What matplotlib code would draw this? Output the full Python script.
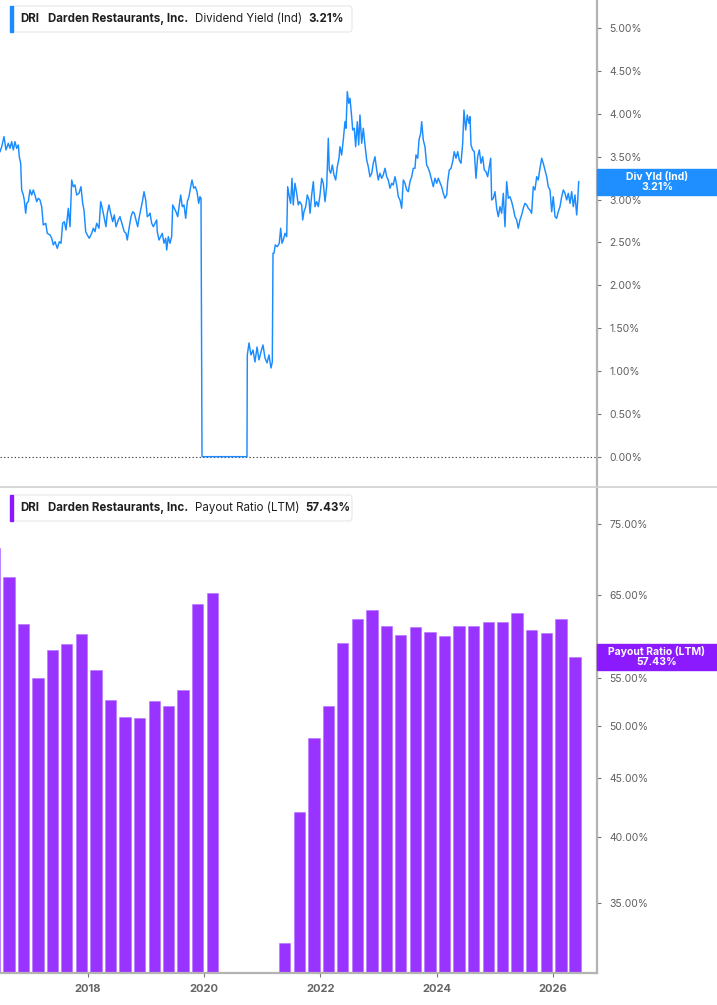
"""DRI dividend yield and payout ratio, two stacked panels."""
import matplotlib
matplotlib.use("Agg")
import matplotlib.pyplot as plt
import pandas as pd
from matplotlib.lines import Line2D
from matplotlib.patches import FancyBboxPatch, Rectangle

plt.rcParams["font.family"] = ["Inter", "DejaVu Sans"]

# Dividend yield (Ind): date as decimal year, value in %
yld_year = [
    2016.485, 2016.514, 2016.554, 2016.588, 2016.628, 2016.657, 2016.686, 2016.714, 2016.743, 2016.772,
    2016.800, 2016.817, 2016.841, 2016.858, 2016.886, 2016.903, 2016.927, 2016.945, 2016.972, 2017.001,
    2017.031, 2017.058, 2017.087, 2017.117, 2017.144, 2017.173, 2017.203, 2017.230, 2017.272, 2017.299,
    2017.346, 2017.375, 2017.402, 2017.432, 2017.471, 2017.506, 2017.535, 2017.564, 2017.592, 2017.621,
    2017.661, 2017.690, 2017.719, 2017.747, 2017.776, 2017.805, 2017.845, 2017.879, 2017.908, 2017.931,
    2017.960, 2017.988, 2018.022, 2018.063, 2018.091, 2018.120, 2018.149, 2018.189, 2018.218, 2018.246,
    2018.275, 2018.309, 2018.332, 2018.361, 2018.390, 2018.425, 2018.452, 2018.482, 2018.521, 2018.550,
    2018.590, 2018.624, 2018.654, 2018.676, 2018.711, 2018.740, 2018.769, 2018.797, 2018.826, 2018.855,
    2018.883, 2018.912, 2018.941, 2018.964, 2018.993, 2019.020, 2019.050, 2019.067, 2019.096, 2019.124,
    2019.153, 2019.182, 2019.192, 2019.222, 2019.251, 2019.278, 2019.308, 2019.337, 2019.354, 2019.382,
    2019.411, 2019.440, 2019.458, 2019.485, 2019.514, 2019.544, 2019.571, 2019.595, 2019.623, 2019.652,
    2019.681, 2019.709, 2019.738, 2019.767, 2019.790, 2019.819, 2019.847, 2019.876, 2019.905, 2019.927,
    2019.945, 2019.962, 2020.736, 2020.742, 2020.771, 2020.805, 2020.840, 2020.874, 2020.909, 2020.943,
    2020.977, 2021.012, 2021.046, 2021.081, 2021.115, 2021.149, 2021.172, 2021.184, 2021.201, 2021.223,
    2021.258, 2021.292, 2021.316, 2021.339, 2021.361, 2021.391, 2021.420, 2021.437, 2021.465, 2021.488,
    2021.511, 2021.533, 2021.562, 2021.592, 2021.619, 2021.643, 2021.678, 2021.695, 2021.717, 2021.747,
    2021.774, 2021.804, 2021.821, 2021.850, 2021.878, 2021.907, 2021.936, 2021.964, 2021.993, 2022.022,
    2022.050, 2022.079, 2022.108, 2022.136, 2022.153, 2022.177, 2022.205, 2022.234, 2022.263, 2022.291,
    2022.320, 2022.337, 2022.366, 2022.394, 2022.423, 2022.441, 2022.463, 2022.487, 2022.509, 2022.538,
    2022.556, 2022.583, 2022.607, 2022.635, 2022.659, 2022.681, 2022.711, 2022.738, 2022.767, 2022.797,
    2022.824, 2022.853, 2022.883, 2022.910, 2022.939, 2022.969, 2022.996, 2023.025, 2023.055, 2023.082,
    2023.112, 2023.141, 2023.168, 2023.198, 2023.227, 2023.254, 2023.284, 2023.313, 2023.341, 2023.370,
    2023.399, 2023.427, 2023.456, 2023.485, 2023.513, 2023.542, 2023.571, 2023.599, 2023.628, 2023.645,
    2023.675, 2023.697, 2023.726, 2023.743, 2023.771, 2023.800, 2023.829, 2023.857, 2023.886, 2023.915,
    2023.943, 2023.972, 2024.001, 2024.029, 2024.058, 2024.087, 2024.115, 2024.144, 2024.174, 2024.191,
    2024.218, 2024.248, 2024.277, 2024.304, 2024.334, 2024.363, 2024.390, 2024.420, 2024.449, 2024.471,
    2024.501, 2024.528, 2024.557, 2024.575, 2024.592, 2024.621, 2024.649, 2024.678, 2024.707, 2024.735,
    2024.764, 2024.793, 2024.821, 2024.850, 2024.879, 2024.907, 2024.931, 2024.948, 2024.976, 2025.005,
    2025.034, 2025.062, 2025.091, 2025.120, 2025.148, 2025.177, 2025.206, 2025.234, 2025.263, 2025.292,
    2025.320, 2025.349, 2025.378, 2025.406, 2025.435, 2025.464, 2025.492, 2025.521, 2025.550, 2025.578,
    2025.607, 2025.636, 2025.664, 2025.693, 2025.723, 2025.750, 2025.779, 2025.809, 2025.836, 2025.865,
    2025.895, 2025.922, 2025.952, 2025.981, 2026.008, 2026.038, 2026.067, 2026.094, 2026.124, 2026.153,
    2026.181, 2026.210, 2026.239, 2026.267, 2026.296, 2026.325, 2026.353, 2026.382, 2026.411, 2026.428,
    2026.446,
]
yld_pct = [
    3.560, 3.618, 3.735, 3.580, 3.658, 3.599, 3.676, 3.580, 3.676, 3.599,
    3.638, 3.501, 3.424, 3.113, 3.054, 2.996, 2.841, 2.957, 2.976, 3.113,
    3.054, 3.113, 3.054, 2.976, 3.016, 2.996, 2.918, 2.704, 2.724, 2.607,
    2.587, 2.549, 2.471, 2.509, 2.432, 2.509, 2.491, 2.724, 2.743, 2.646,
    2.899, 2.684, 3.229, 3.151, 3.171, 3.054, 3.074, 3.151, 2.957, 2.879,
    2.626, 2.587, 2.549, 2.607, 2.666, 2.626, 2.724, 2.666, 2.976, 2.899,
    2.801, 2.684, 2.841, 2.938, 2.841, 2.743, 2.821, 2.684, 2.763, 2.801,
    2.704, 2.626, 2.607, 2.529, 2.684, 2.801, 2.859, 2.841, 2.763, 2.684,
    2.801, 2.899, 2.996, 3.093, 2.996, 2.801, 2.821, 2.841, 2.724, 2.684,
    2.724, 2.763, 2.626, 2.529, 2.568, 2.607, 2.491, 2.549, 2.412, 2.568,
    2.491, 2.568, 2.938, 2.899, 2.859, 2.801, 2.938, 3.054, 2.918, 2.938,
    2.782, 2.976, 3.034, 3.151, 3.229, 3.133, 3.151, 3.093, 2.957, 3.034,
    3.016, 0.000, 0.000, 1.187, 1.327, 1.187, 1.245, 1.105, 1.280, 1.129,
    1.222, 1.304, 1.152, 1.094, 1.187, 1.035, 1.105, 2.374, 2.374, 2.471,
    2.451, 2.491, 2.666, 2.491, 2.529, 2.607, 2.568, 3.151, 3.034, 2.957,
    3.249, 2.938, 3.191, 3.074, 2.938, 2.976, 2.938, 2.763, 2.859, 2.918,
    3.054, 2.996, 2.841, 3.054, 3.210, 2.918, 2.976, 2.918, 3.054, 3.249,
    3.191, 2.976, 3.151, 3.716, 3.346, 3.308, 3.404, 3.288, 3.229, 3.385,
    3.483, 3.618, 3.521, 3.696, 3.910, 3.833, 4.260, 4.125, 4.183, 3.968,
    3.813, 3.833, 3.618, 3.910, 3.638, 3.988, 3.658, 3.833, 3.638, 3.463,
    3.385, 3.268, 3.308, 3.424, 3.501, 3.346, 3.229, 3.308, 3.249, 3.288,
    3.366, 3.268, 3.229, 3.133, 3.191, 3.171, 3.268, 3.171, 3.034, 2.996,
    2.899, 3.229, 3.191, 3.113, 3.093, 3.210, 3.268, 3.366, 3.366, 3.521,
    3.483, 3.696, 3.774, 3.910, 3.696, 3.618, 3.404, 3.366, 3.308, 3.229,
    3.151, 3.249, 3.191, 3.249, 3.200, 3.151, 3.074, 3.016, 3.054, 3.210,
    3.346, 3.366, 3.443, 3.560, 3.483, 3.560, 3.463, 3.424, 3.658, 4.046,
    3.813, 3.988, 3.891, 3.968, 3.638, 3.580, 3.560, 3.249, 3.501, 3.580,
    3.424, 3.501, 3.346, 3.326, 3.268, 3.385, 3.483, 2.996, 3.016, 3.093,
    2.899, 2.801, 2.918, 2.841, 3.074, 2.684, 3.210, 3.016, 3.034, 2.976,
    2.899, 2.801, 2.763, 2.666, 2.763, 2.821, 2.899, 2.957, 2.938, 2.899,
    2.879, 2.841, 3.151, 3.113, 3.268, 3.229, 3.366, 3.483, 3.424, 3.346,
    3.268, 3.151, 3.113, 2.859, 3.034, 2.801, 2.782, 2.859, 2.918, 3.034,
    3.113, 3.074, 2.996, 3.074, 2.957, 3.093, 2.918, 3.054, 2.821, 2.976,
    3.210,
]

# Payout ratio (LTM), one bar per fiscal quarter; None = not reported
payout_dates = pd.date_range("2016-05-21", periods=41, freq=pd.DateOffset(months=3))
payout_pct = [
    71.5, 67.4, 61.3, 55.0, 58.2, 58.9, 60.1, 55.9, 52.6, 50.9,
    50.8, 52.5, 52.0, 53.7, 63.9, 65.3, None, None, None, None,
    32.3, 42.0, 48.8, 52.0, 59.0, 62.0, 63.1, 61.1, 60.0, 61.0,
    60.4, 59.9, 61.1, 61.1, 61.6, 61.6, 62.7, 60.6, 60.2, 62.0,
    57.43,
]

yld_ticks = [0, 0.5, 1.0, 1.5, 2.0, 2.5, 3.0, 3.5, 4.0, 4.5, 5.0]
payout_ticks = [35, 40, 45, 50, 55, 65, 75]
year_ticks = [2018, 2020, 2022, 2024, 2026]

BLUE = "#1a8cff"
PURPLE = "#9933ff"
TICK_GREY = "#5f5f5f"
SPINE_GREY = "#b3b3b3"

W, H = 717, 1005


def decimal_year(ts: pd.Timestamp) -> float:
    return ts.year + (ts.dayofyear - 1) / 365.25


def fx(px):  # figure fraction from pixel x
    return px / W


def fy(py):  # figure fraction from pixel y measured from the top
    return 1 - py / H


def style_axis(ax):
    for side in ("top", "left", "bottom"):
        ax.spines[side].set_visible(False)
    ax.spines["right"].set_color(SPINE_GREY)
    ax.spines["right"].set_linewidth(1.6)
    ax.yaxis.tick_right()
    ax.tick_params(axis="y", which="both", length=3, width=0.8, color="#777777",
                   labelsize=7.5, labelcolor=TICK_GREY, pad=6)
    ax.set_facecolor("none")


def header(fig, top, metric, value, accent):
    box = FancyBboxPatch((fx(11), fy(top + 26)), fx(341), 26 / H,
                         boxstyle="round,pad=0,rounding_size=0.004",
                         transform=fig.transFigure, facecolor="white",
                         edgecolor="#e6e6e6", lw=0.8)
    fig.add_artist(box)
    fig.add_artist(Rectangle((fx(10), fy(top + 26)), fx(3), 26 / H,
                             transform=fig.transFigure, color=accent))
    yy = fy(top + 13)
    kw = dict(va="center", ha="left", fontsize=8.3, color="#1f1f1f")
    fig.text(fx(20), yy, "DRI", fontweight="bold", **kw)
    fig.text(fx(48), yy, "Darden Restaurants, Inc.", fontweight="bold", **kw)
    fig.text(fx(195), yy, metric, **kw)
    fig.text(fx(value[0]), yy, value[1], fontweight="bold", **kw)


def side_tag(fig, ax, yval, lines, color):
    ypix = ax.transData.transform((ax.get_xlim()[0], yval))[1]  # from bottom
    x0 = ax.get_position().x1
    fig.add_artist(Rectangle((x0, (ypix - 13) / H), 1 - x0, 26 / H,
                             transform=fig.transFigure, color=color, zorder=5))
    fig.text((x0 + 1) / 2, ypix / H, lines, ha="center", va="center",
             color="white", fontsize=7.5, fontweight="bold",
             linespacing=1.0, zorder=6)


def main() -> None:
    fig = plt.figure(figsize=(W / 100, H / 100), dpi=100)
    x_lo, x_hi = 2016.485, 2026.761

    # top: dividend yield
    ax1 = fig.add_axes([0, fy(487), fx(597), 487 / H])
    style_axis(ax1)
    ax1.plot(yld_year, yld_pct, color=BLUE, lw=1.05)
    ax1.axhline(0, color="#444444", lw=0.8, ls=(0, (1.2, 2)), zorder=0, clip_on=False)
    ax1.set_xlim(x_lo, x_hi)
    ax1.set_ylim(-0.354, 5.33)
    ax1.set_yticks(yld_ticks)
    ax1.set_yticklabels([f"{t:.2f}%" for t in yld_ticks])
    ax1.set_xticks([])

    # bottom: payout ratio (log scale)
    ax2 = fig.add_axes([0, fy(973), fx(597), (973 - 488) / H])
    style_axis(ax2)
    ax2.spines["bottom"].set_visible(True)
    ax2.spines["bottom"].set_color(SPINE_GREY)
    ax2.spines["bottom"].set_linewidth(1.6)
    ax2.set_yscale("log")
    xs = [decimal_year(d) for d in payout_dates]
    for x, v in zip(xs, payout_pct):
        if v is None:
            continue
        ax2.bar(x, v - 1, bottom=1, width=0.195, color=PURPLE,
                edgecolor="#b570ff", linewidth=0.4)
    ax2.set_xlim(x_lo, x_hi)
    ax2.set_ylim(30.42, 80.6)
    ax2.yaxis.set_minor_locator(matplotlib.ticker.NullLocator())
    ax2.set_yticks(payout_ticks)
    ax2.set_yticklabels([f"{t:.2f}%" for t in payout_ticks])
    ax2.set_xticks(year_ticks)
    ax2.set_xticklabels([str(y) for y in year_ticks])
    ax2.tick_params(axis="x", length=3, width=0.8, color="#777777", labelsize=8,
                    labelcolor="#666666", pad=5)
    for lab in ax2.get_xticklabels():
        lab.set_fontweight("bold")

    # panel separator
    fig.add_artist(Line2D([0, 1], [fy(487.5), fy(487.5)], transform=fig.transFigure,
                          color="#d0d0d0", lw=1.2))

    header(fig, 6, "Dividend Yield (Ind)", (308, "3.21%"), BLUE)
    header(fig, 495, "Payout Ratio (LTM)", (305, "57.43%"), "#8c1aff")

    side_tag(fig, ax1, yld_pct[-1], "Div Yld (Ind)\n3.21%", "#1f8fff")
    side_tag(fig, ax2, payout_pct[-1], "Payout Ratio (LTM)\n57.43%", "#8c1aff")

    fig.savefig("out.png", dpi=100, facecolor="white")


if __name__ == "__main__":
    main()
